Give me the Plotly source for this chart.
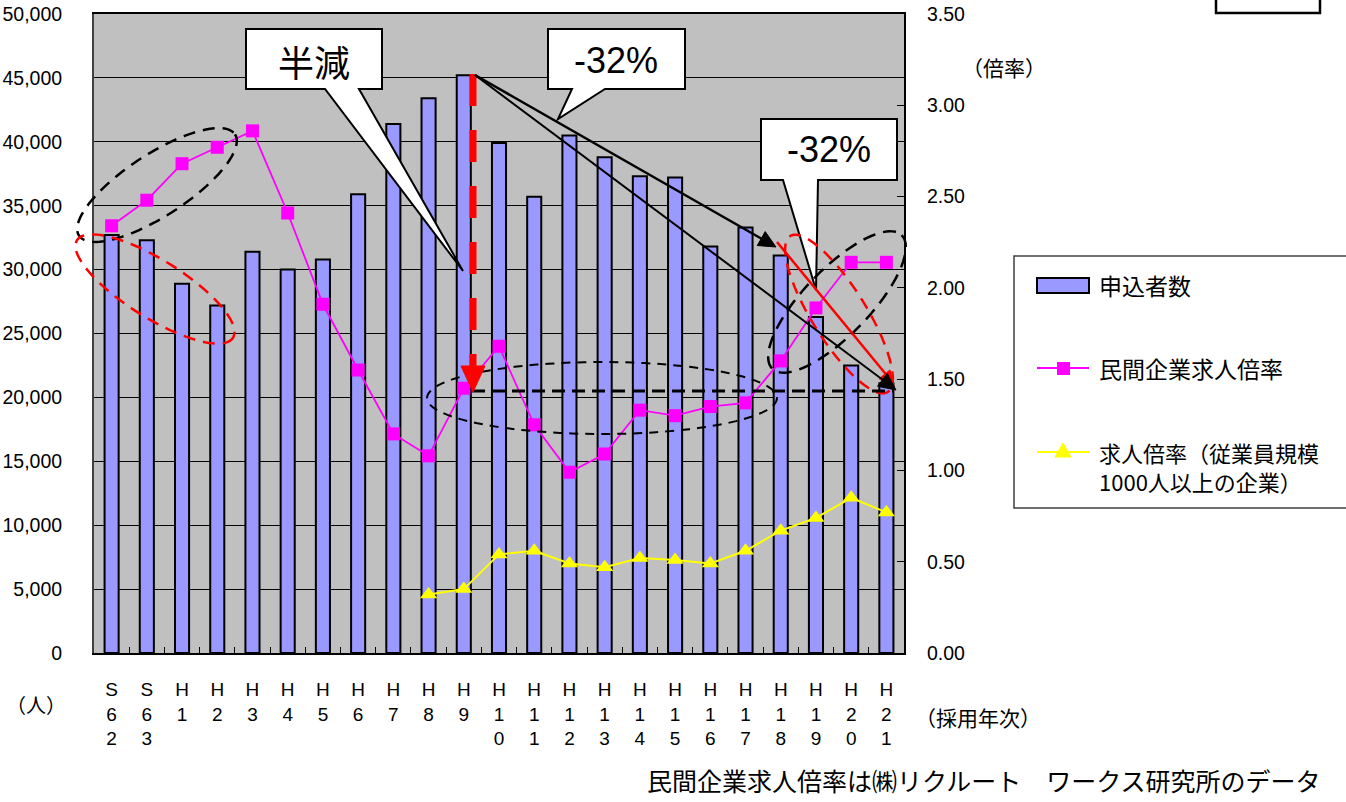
import math
import plotly.graph_objects as go

# ---- data -------------------------------------------------------------
years = ["S62", "S63", "H1", "H2", "H3", "H4", "H5", "H6", "H7", "H8", "H9",
         "H10", "H11", "H12", "H13", "H14", "H15", "H16", "H17", "H18",
         "H19", "H20", "H21"]

# applicants (left axis, persons)
applicants = [32700, 32300, 28900, 27200, 31400, 30000, 30800, 35900, 41400,
              43400, 45200, 39900, 35700, 40500, 38800, 37300, 37200, 31800,
              33300, 31100, 26300, 22500, 21100]

# private-sector job-offer ratio (right axis)
private_ratio = [2.34, 2.48, 2.68, 2.77, 2.86, 2.41, 1.91, 1.55, 1.20, 1.08,
                 1.45, 1.68, 1.25, 0.99, 1.09, 1.33, 1.30, 1.35, 1.37, 1.60,
                 1.89, 2.14, 2.14]

# job-offer ratio, firms with 1000+ employees (right axis, from H8)
large_firm_ratio = [None] * 9 + [0.32, 0.35, 0.54, 0.56, 0.49, 0.47, 0.52,
                                 0.51, 0.49, 0.56, 0.67, 0.74, 0.85, 0.77]

tick_text = ["<br>".join(list(y)) for y in years]

# ---- styling ------------------------------------------------------------
W_PX, H_PX = 1346, 802
L, R, T, B = 94, 442, 14, 149
X0, X1, Y0, Y1 = L, W_PX - R, T, H_PX - B
PW, PH = X1 - X0, Y1 - Y0

LAT = "Liberation Sans, Arial, Noto Sans CJK JP"
JP = "Noto Sans CJK JP, Liberation Sans"
BAR_FILL = "#9999FF"
PINK = "#FF00FF"
YELLOW = "#FFFF00"


def fx(x):
    return (x - X0) / PW


def fy(y):
    return (Y1 - y) / PH


def pt(x, y):
    return f"{fx(x):.5f},{fy(y):.5f}"


def poly(points):
    return "M " + " L ".join(pt(x, y) for x, y in points) + " Z"


def ellipse(cx, cy, a, b, ang, n=90):
    t = math.radians(ang)
    pts = []
    for i in range(n):
        s = 2 * math.pi * i / n
        ex, ey = a * math.cos(s), b * math.sin(s)
        pts.append((cx + ex * math.cos(t) - ey * math.sin(t),
                    cy + ex * math.sin(t) + ey * math.cos(t)))
    return poly(pts)


def head(x0, y0, x1, y1, ln=17, hw=8):
    d = math.hypot(x1 - x0, y1 - y0)
    ux, uy = (x1 - x0) / d, (y1 - y0) / d
    bx, by = x1 - ln * ux, y1 - ln * uy
    return poly([(x1, y1), (bx - hw * uy, by + hw * ux), (bx + hw * uy, by - hw * ux)])


fig = go.Figure()

fig.add_trace(go.Bar(
    x=years, y=applicants, width=0.4, name="申込者数",
    marker=dict(color=BAR_FILL, line=dict(color="black", width=2)),
))
fig.add_trace(go.Scatter(
    x=years, y=private_ratio, yaxis="y2", mode="lines+markers",
    name="民間企業求人倍率",
    line=dict(color=PINK, width=1.8),
    marker=dict(symbol="square", size=13, color=PINK),
))
fig.add_trace(go.Scatter(
    x=years, y=large_firm_ratio, yaxis="y2", mode="lines+markers",
    name="求人倍率（従業員規模1000人以上の企業）",
    line=dict(color=YELLOW, width=2),
    marker=dict(symbol="triangle-up", size=15, color=YELLOW),
))

shapes = []


def add_path(path, fill="rgba(0,0,0,0)", color="black", width=2, dash="solid"):
    shapes.append(dict(type="path", xref="paper", yref="paper", path=path,
                       fillcolor=fill, line=dict(color=color, width=width, dash=dash)))


def add_line(x0, y0, x1, y1, color="black", width=2, dash="solid"):
    shapes.append(dict(type="line", xref="paper", yref="paper",
                       x0=fx(x0), y0=fy(y0), x1=fx(x1), y1=fy(y1),
                       line=dict(color=color, width=width, dash=dash)))


# speech-bubble callouts
add_path(poly([(246, 29), (382, 29), (382, 89), (359, 89), (463, 271),
               (325, 89), (246, 89)]), fill="white")
add_path(poly([(548, 29), (685, 29), (685, 89), (605, 89), (558, 119),
               (572, 89), (548, 89)]), fill="white")
add_path(poly([(761, 119), (897, 119), (897, 180), (818, 180), (816, 290),
               (783, 180), (761, 180)]), fill="white")

# small box at the top right
shapes.append(dict(type="rect", xref="paper", yref="paper",
                   x0=fx(1216), x1=fx(1320), y0=fy(13), y1=fy(-6),
                   fillcolor="white", line=dict(color="black", width=2.5)))

# dashed ellipses
add_path(ellipse(157, 185, 93, 31, -33), width=2.5, dash="12px,8px")
add_path(ellipse(155, 289, 92, 29, 32), color="red", width=2.5, dash="12px,8px")
add_path(ellipse(602, 398, 175, 36, 0), width=2, dash="9px,7px")
add_path(ellipse(837, 302, 93, 33, -46), width=2.5, dash="13px,8px")
add_path(ellipse(839, 314, 92, 27, 58), color="red", width=2.5, dash="12px,8px")

# level line and the H9 drop marker
add_line(472, 391, 893, 391, width=3, dash="13px,7px")
add_line(473, 74, 473, 367, color="red", width=7, dash="32px,24px")
add_path(poly([(461, 366), (485, 366), (473, 392)]), fill="red", color="red", width=1)

# decline arrows
add_line(777, 242, 889, 378, color="red", width=2.5)
add_path(head(777, 242, 894, 386, 15, 7), fill="red", color="red", width=1)
add_line(475, 75, 762, 239, width=2.5)
add_path(head(475, 75, 776, 247), fill="black", width=1)
add_line(475, 75, 883, 380, width=2)
add_path(head(475, 75, 896, 390), fill="black", width=1)

# legend
shapes.append(dict(type="rect", xref="paper", yref="paper",
                   x0=fx(1014), x1=fx(1360), y0=fy(508), y1=fy(256),
                   fillcolor="white", line=dict(color="#404040", width=1.5)))
shapes.append(dict(type="rect", xref="paper", yref="paper",
                   x0=fx(1037), x1=fx(1089), y0=fy(293), y1=fy(278),
                   fillcolor=BAR_FILL, line=dict(color="black", width=2)))
add_line(1037, 368, 1089, 368, color=PINK, width=1.8)
shapes.append(dict(type="rect", xref="paper", yref="paper",
                   x0=fx(1057), x1=fx(1070), y0=fy(375), y1=fy(362),
                   fillcolor=PINK, line=dict(width=0)))
add_line(1037, 452, 1089, 452, color=YELLOW, width=2)
add_path(poly([(1063, 443), (1071, 457), (1055, 457)]), fill=YELLOW, color=YELLOW, width=1)

annotations = []


def add_text(x, y, text, size, family=JP, xanchor="center", align="center"):
    annotations.append(dict(xref="paper", yref="paper", x=fx(x), y=fy(y),
                            text=text, showarrow=False, xanchor=xanchor,
                            yanchor="middle", align=align,
                            font=dict(size=size, family=family, color="black")))


add_text(314, 61, "半減", 36)
add_text(616, 60, "-32%", 36, family=LAT)
add_text(829, 150, "-32%", 36, family=LAT)

add_text(1097, 285, "申込者数", 23, xanchor="left")
add_text(1097, 368, "民間企業求人倍率", 23, xanchor="left")
add_text(1097, 452, "求人倍率（従業員規模", 22, xanchor="left")
add_text(1097, 481, "1000人以上の企業）", 22, xanchor="left")

add_text(1004, 67, "（倍率）", 21)
add_text(36, 704, "（人）", 20)
add_text(913, 717, "（採用年次）", 21, xanchor="left")
add_text(645, 780, "民間企業求人倍率は㈱リクルート　ワークス研究所のデータ", 25,
         xanchor="left")

fig.update_layout(
    width=W_PX, height=H_PX,
    margin=dict(l=L, r=R, t=T, b=B, pad=0, autoexpand=False),
    paper_bgcolor="white", plot_bgcolor="#C0C0C0",
    showlegend=False, barmode="overlay",
    font=dict(family=LAT, size=18, color="black"),
    xaxis=dict(
        type="category", range=[-0.5, len(years) - 0.5], automargin=False,
        tickmode="array", tickvals=years, ticktext=tick_text,
        ticks="inside", tickson="boundaries", ticklen=6, tickcolor="black",
        showline=True, linecolor="black", linewidth=2, mirror=True,
        showgrid=False, tickangle=0, ticklabelstandoff=18,
        tickfont=dict(size=19, family=LAT),
    ),
    yaxis=dict(
        range=[0, 50000], dtick=5000, tickformat=",", automargin=False,
        showgrid=True, gridcolor="black", gridwidth=1, zeroline=False,
        showline=True, linecolor="#404040", linewidth=2,
        ticks="", ticklabelstandoff=26,
        tickfont=dict(size=19.5, family=LAT),
    ),
    yaxis2=dict(
        overlaying="y", side="right", range=[0, 3.5], dtick=0.5,
        tickformat=".2f", showgrid=False, zeroline=False, automargin=False,
        showline=True, linecolor="black", linewidth=2,
        ticks="inside", ticklen=7, tickcolor="black", ticklabelstandoff=17,
        tickfont=dict(size=19.5, family=LAT),
    ),
    shapes=shapes,
    annotations=annotations,
)

fig.write_html("out.html")
